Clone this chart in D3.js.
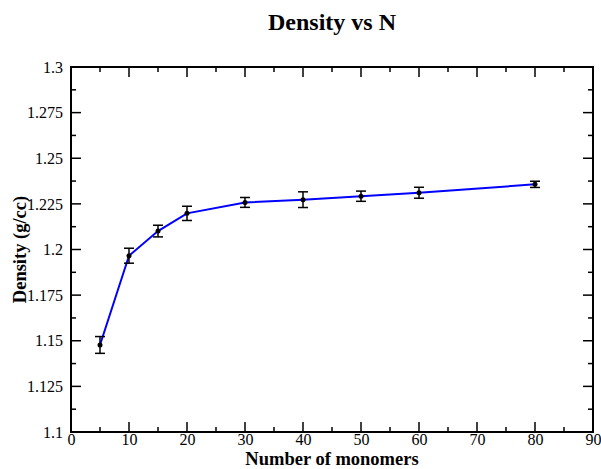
<!DOCTYPE html>
<html>
<head>
<meta charset="utf-8">
<script src="https://cdn.jsdelivr.net/npm/d3@7"></script>
<style>
  body { margin: 0; background: #fff; }
  svg text { font-family: "Liberation Serif", "Times New Roman", serif; }
</style>
</head>
<body>
<div id="chart"></div>
<script>
//data
const nValues = [5, 10, 15, 20, 30, 40, 50, 60, 80];
const density = [1.1477, 1.1966, 1.2101, 1.2198, 1.2258, 1.2273, 1.2292, 1.2311, 1.2357];
const errors = [0.0046, 0.0041, 0.0032, 0.0039, 0.0027, 0.0043, 0.0028, 0.0030, 0.0017];
const xTicks = [0, 10, 20, 30, 40, 50, 60, 70, 80, 90];
const yTicks = [1.1, 1.125, 1.15, 1.175, 1.2, 1.225, 1.25, 1.275, 1.3];

const W = 601, H = 469;
const margin = { top: 67, right: 8, bottom: 37, left: 71 },
    width = W - margin.left - margin.right,
    height = H - margin.top - margin.bottom;

const root = d3.select("#chart").append("svg")
    .attr("width", W)
    .attr("height", H);

const svg = root.append("g")
    .attr("transform", `translate(${margin.left},${margin.top})`);

const x = d3.scaleLinear().domain([0, 90]).range([0, width]);
const y = d3.scaleLinear().domain([1.1, 1.3]).range([height, 0]);

const data = nValues.map((n, i) => ({ n: n, d: density[i], e: errors[i] }));

//ticks inward on all four sides
const xMinor = d3.range(5, 90, 10);
const yMinor = d3.range(0, 8).map(i => 1.1125 + i * 0.025);

function drawTicks(vals, len, horizontal) {
    vals.forEach(v => {
        if (horizontal) {
            svg.append("line").attr("x1", x(v)).attr("x2", x(v)).attr("y1", height).attr("y2", height - len)
                .attr("stroke", "black").attr("stroke-width", 1.5);
            svg.append("line").attr("x1", x(v)).attr("x2", x(v)).attr("y1", 0).attr("y2", len)
                .attr("stroke", "black").attr("stroke-width", 1.5);
        } else {
            svg.append("line").attr("x1", 0).attr("x2", len).attr("y1", y(v)).attr("y2", y(v))
                .attr("stroke", "black").attr("stroke-width", 1.5);
            svg.append("line").attr("x1", width).attr("x2", width - len).attr("y1", y(v)).attr("y2", y(v))
                .attr("stroke", "black").attr("stroke-width", 1.5);
        }
    });
}
drawTicks(xTicks, 10, true);
drawTicks(xMinor, 5, true);
drawTicks(yTicks, 10, false);
drawTicks(yMinor, 5, false);

//tick labels
svg.append("g")
    .attr("transform", `translate(0,${height})`)
    .call(d3.axisBottom(x).tickValues(xTicks).tickSize(0).tickPadding(2).tickFormat(d3.format("d")))
    .attr("font-family", "Liberation Serif")
    .attr("font-size", 16)
    .call(g => g.select(".domain").remove());

svg.append("g")
    .call(d3.axisLeft(y).tickValues(yTicks).tickSize(0).tickPadding(8).tickFormat(d => +d.toFixed(3)))
    .attr("font-family", "Liberation Serif")
    .attr("font-size", 16)
    .call(g => g.select(".domain").remove());

//frame
svg.append("rect")
    .attr("width", width)
    .attr("height", height)
    .attr("fill", "none")
    .attr("stroke", "black")
    .attr("stroke-width", 2);

//line
svg.append("path")
    .datum(data)
    .attr("fill", "none")
    .attr("stroke", "#0000ff")
    .attr("stroke-width", 2)
    .attr("d", d3.line().x(d => x(d.n)).y(d => y(d.d)));

//error bars
const eb = svg.append("g").attr("stroke", "black").attr("stroke-width", 1.5);
data.forEach(d => {
    eb.append("line").attr("x1", x(d.n)).attr("x2", x(d.n)).attr("y1", y(d.d - d.e)).attr("y2", y(d.d + d.e));
    eb.append("line").attr("x1", x(d.n) - 5).attr("x2", x(d.n) + 5).attr("y1", y(d.d - d.e)).attr("y2", y(d.d - d.e));
    eb.append("line").attr("x1", x(d.n) - 5).attr("x2", x(d.n) + 5).attr("y1", y(d.d + d.e)).attr("y2", y(d.d + d.e));
});

//points
svg.selectAll(".pt")
    .data(data)
    .enter().append("circle")
    .attr("class", "pt")
    .attr("cx", d => x(d.n))
    .attr("cy", d => y(d.d))
    .attr("r", 2.5)
    .attr("fill", "black");

//title and axis labels
root.append("text")
    .attr("x", margin.left + width / 2)
    .attr("y", 30)
    .attr("text-anchor", "middle")
    .style("font-size", "24px")
    .style("font-weight", "bold")
    .text("Density vs N");

root.append("text")
    .attr("x", margin.left + width / 2)
    .attr("y", 464.5)
    .attr("text-anchor", "middle")
    .style("font-size", "18.5px")
    .style("font-weight", "bold")
    .text("Number of monomers");

root.append("text")
    .attr("transform", `translate(26,${margin.top + height / 2}) rotate(-90)`)
    .attr("text-anchor", "middle")
    .style("font-size", "18.5px")
    .style("font-weight", "bold")
    .text("Density (g/cc)");
</script>
</body>
</html>
